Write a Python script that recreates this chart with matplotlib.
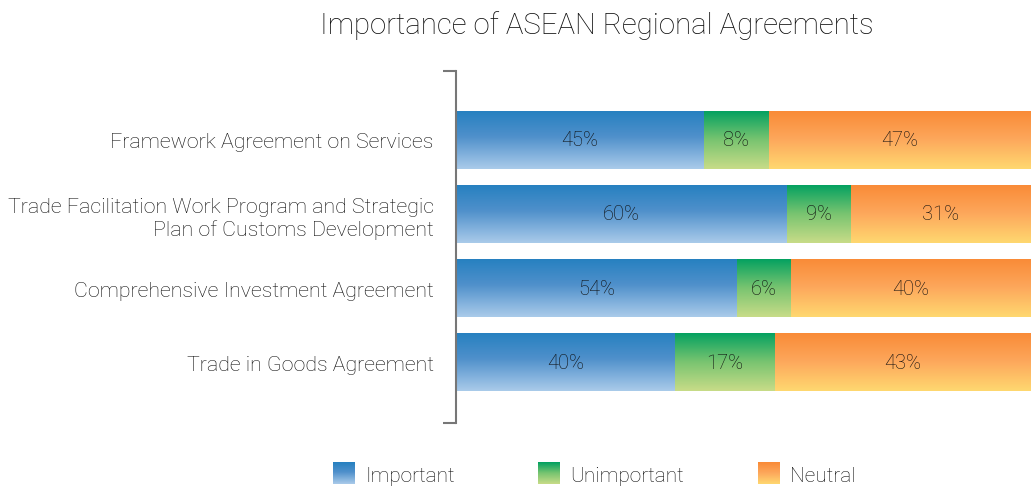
import matplotlib
matplotlib.use("Agg")
import matplotlib.pyplot as plt
import numpy as np
from matplotlib.colors import LinearSegmentedColormap

plt.rcParams["font.family"] = ["Roboto", "DejaVu Sans"]
plt.rcParams["font.weight"] = "light"

categories = [
    "Framework Agreement on Services",
    "Trade Facilitation Work Program and Strategic\nPlan of Customs Development",
    "Comprehensive Investment Agreement",
    "Trade in Goods Agreement",
]
# printed percentages
important_pct = [45, 60, 54, 40]
unimportant_pct = [8, 9, 6, 17]
neutral_pct = [47, 31, 40, 43]
# segment lengths as drawn in the original (scaled to 100)
important_len = [43.1, 57.6, 48.9, 38.1]
unimportant_len = [11.3, 11.1, 9.4, 17.4]
neutral_len = [45.6, 31.3, 41.7, 44.5]
series_names = ["Important", "Unimportant", "Neutral"]

CMAPS = [
    LinearSegmentedColormap.from_list("blu", [(0, "#2580c0"), (0.45, "#4f90cb"), (1, "#aacbea")]),
    LinearSegmentedColormap.from_list("grn", [(0, "#00a060"), (0.5, "#78c470"), (1, "#c8dc88")]),
    LinearSegmentedColormap.from_list("org", [(0, "#f98a36"), (0.5, "#fda85c"), (1, "#ffd870")]),
]
GRAD = np.linspace(0, 1, 256).reshape(-1, 1)
INK = "#0d0d0d"
AXC = "#777777"

W, H = 1031, 489
fig = plt.figure(figsize=(W / 100, H / 100), dpi=100)
ax = fig.add_axes([456 / W, 1 - 424 / H, 1 - 456 / W, 352 / H])

y = np.arange(len(categories))
lefts = np.zeros(len(categories))
for lens, pcts, cmap in zip([important_len, unimportant_len, neutral_len],
                            [important_pct, unimportant_pct, neutral_pct], CMAPS):
    bars = ax.barh(y, lens, left=lefts, height=0.784, color="none", lw=0)
    for p, v in zip(bars, pcts):
        x0, y0 = p.get_xy()
        im = ax.imshow(GRAD, cmap=cmap, aspect="auto", interpolation="bilinear",
                       extent=[x0, x0 + p.get_width(), y0 + p.get_height(), y0])
        im.set_clip_path(p)
        ax.text(x0 + p.get_width() / 2, y0 + p.get_height() / 2, f"{v}%",
                ha="center", va="center", fontsize=14.5, color=INK)
    lefts += np.array(lens)

ax.set_xlim(0, 100)
ax.set_ylim(3.824, -0.932)
ax.set_yticks(y)
ax.set_yticklabels(categories, fontsize=15.4, color=INK, linespacing=1.2)
ax.tick_params(axis="y", length=0, pad=16)
ax.set_xticks([])
for s in ["top", "right", "bottom"]:
    ax.spines[s].set_visible(False)
ax.spines["left"].set_color(AXC)
ax.spines["left"].set_linewidth(1.5)
# bracket ends
tick_w = 13 / (W - 456)
for yy in (0, 1):
    ax.plot([-tick_w, 0], [yy, yy], transform=ax.transAxes,
            color=AXC, lw=1.5, clip_on=False, solid_capstyle="butt")

fig.text(597 / W, 1 - 26 / H, "Importance of ASEAN Regional Agreements",
         ha="center", va="center", fontsize=21.2, color=INK)

# legend with gradient swatches
sq_x = [333, 538, 758]
for sx, name, cmap in zip(sq_x, series_names, CMAPS):
    lax = fig.add_axes([sx / W, 1 - 485 / H, 22 / W, 22 / H])
    lax.imshow(GRAD, cmap=cmap, aspect="auto", interpolation="bilinear")
    lax.axis("off")
    fig.text((sx + 32) / W, 1 - 477 / H, name, ha="left", va="center",
             fontsize=15, color=INK)

fig.savefig("out.png", dpi=100)
